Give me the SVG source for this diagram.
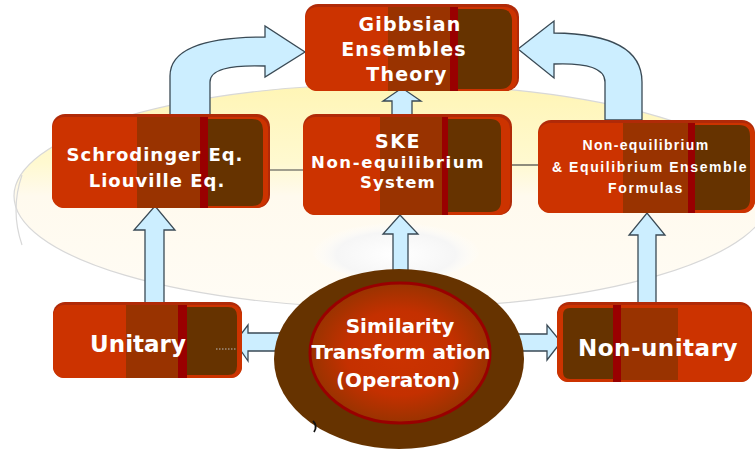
<svg xmlns="http://www.w3.org/2000/svg" width="755" height="452" viewBox="0 0 755 452">
<defs>
<linearGradient id="bg" x1="0" y1="0" x2="0" y2="1">
<stop offset="0" stop-color="#fff5b5"/>
<stop offset="0.35" stop-color="#fff9d0"/>
<stop offset="0.5" stop-color="#fffaee"/>
<stop offset="1" stop-color="#fffcf5"/>
</linearGradient>
<radialGradient id="glow" cx="0.5" cy="0.5" r="0.5">
<stop offset="0" stop-color="#cc3300"/>
<stop offset="0.6" stop-color="#c43000"/>
<stop offset="1" stop-color="#993300"/>
</radialGradient>
<radialGradient id="wglow" cx="0.5" cy="0.6" r="0.5">
<stop offset="0" stop-color="#ffffff"/>
<stop offset="0.7" stop-color="#f6f6f6"/>
<stop offset="1" stop-color="#ffffff" stop-opacity="0"/>
</radialGradient>
</defs>
<style>
.arrow{fill:#cceeff;stroke:#3a4a55;stroke-width:1.3;stroke-linejoin:miter}
.line{stroke:#444;stroke-width:1.2;fill:none}
.c1{fill:#cc3300}
.c2{fill:#993300}
.c3{fill:#990000}
.c4{fill:#663300}
.edge{fill:#b02a08}
.t{fill:#ffffff;font-family:"DejaVu Sans",Verdana,sans-serif;font-weight:bold;text-anchor:middle}
.tn{fill:#ffffff;font-family:"DejaVu Sans",Verdana,sans-serif;text-anchor:middle}
.ts{fill:#ffffff;font-family:"Liberation Sans",Arial,sans-serif;font-weight:bold;text-anchor:middle}
</style>
<rect width="755" height="452" fill="#ffffff"/>
<g id="background">
<ellipse cx="392" cy="196" rx="378" ry="112" fill="url(#bg)" stroke="#d8d8d8" stroke-width="1.2"/>
<path d="M22,175 Q10,210 22,245" fill="none" stroke="#d8d8d8" stroke-width="1.2"/>
<ellipse cx="396" cy="248" rx="85" ry="32" fill="url(#wglow)"/>
</g>
<g id="connectors">
<line class="line" x1="268" y1="170" x2="305" y2="170"/>
<line class="line" x1="508" y1="165" x2="540" y2="165"/>
<path class="arrow" d="M170,117 L170,76 Q170,37 265,37 L265,26 L305,52 L265,77 L265,66 Q210,64 210,82 L210,117 Z"/>
<path class="arrow" d="M642,120 L642,82 Q642,34 554,33 L554,21 L518,49 L554,78 L554,64 Q605,62 605,82 L605,120 Z"/>
<path class="arrow" d="M392,117 L392,101 L383,101 L402,88 L421,101 L412,101 L412,117 Z"/>
<path class="arrow" d="M393,272 L393,234 L383,234 L400,215 L418,234 L408,234 L408,272 Z"/>
<path class="arrow" d="M145,304 L145,230 L134,230 L155,206 L175,230 L164,230 L164,304 Z"/>
<path class="arrow" d="M638,304 L638,235 L629,235 L647,213 L665,235 L656,235 L656,304 Z"/>
<path class="arrow" d="M290,333 L248,333 L248,325 L235,342 L248,361 L248,351 L290,351 Z"/>
<path class="arrow" d="M512,334 L547,334 L547,325 L561,342 L547,360 L547,351 L512,351 Z"/>
</g>
<g id="gibbsian">
<rect class="edge" x="305" y="4" width="214" height="87" rx="13"/>
<rect class="c1" x="305" y="7" width="212" height="84" rx="12"/>
<rect class="c2" x="388" y="7" width="62" height="84"/>
<rect class="c3" x="450" y="7" width="8" height="84"/>
<path class="c4" d="M458,9 L500,9 Q512,9 512,21 L512,77 Q512,89 500,89 L458,89 Z"/>
<text class="t" x="410" y="31" font-size="19" letter-spacing="1.2">Gibbsian</text>
<text class="t" x="404" y="56" font-size="19" letter-spacing="1.2">Ensembles</text>
<text class="t" x="407" y="81" font-size="19" letter-spacing="1.2">Theory</text>
</g>
<g id="schrodinger">
<rect class="edge" x="52" y="114" width="218" height="94" rx="13"/>
<rect class="c1" x="52" y="117" width="216" height="91" rx="12"/>
<rect class="c2" x="137" y="117" width="63" height="91"/>
<rect class="c3" x="200" y="117" width="8" height="91"/>
<path class="c4" d="M208,119 L252,119 Q263,119 263,130 L263,195 Q263,206 252,206 L208,206 Z"/>
<text class="t" x="155" y="161" font-size="18" letter-spacing="1">Schrodinger Eq.</text>
<text class="t" x="157" y="187" font-size="18" letter-spacing="1">Liouville Eq.</text>
</g>
<g id="ske">
<rect class="edge" x="303" y="114" width="209" height="101" rx="13"/>
<rect class="c1" x="303" y="117" width="207" height="98" rx="12"/>
<rect class="c2" x="380" y="117" width="62" height="98"/>
<rect class="c3" x="442" y="117" width="6" height="98"/>
<path class="c4" d="M448,119 L490,119 Q501,119 501,130 L501,201 Q501,212 490,212 L448,212 Z"/>
<text class="t" x="398" y="148" font-size="19" letter-spacing="1.5">SKE</text>
<text class="t" x="398" y="168" font-size="16.5" letter-spacing="1.6">Non-equilibrium</text>
<text class="t" x="398" y="188" font-size="16.5" letter-spacing="1.2">System</text>
</g>
<g id="formulas">
<rect class="edge" x="538" y="120" width="217" height="93" rx="13"/>
<rect class="c1" x="538" y="123" width="217" height="90" rx="12"/>
<rect class="c2" x="623" y="123" width="65" height="90"/>
<rect class="c3" x="688" y="123" width="7" height="90"/>
<path class="c4" d="M695,125 L739,125 Q750,125 750,136 L750,199 Q750,210 739,210 L695,210 Z"/>
<text class="ts" x="646" y="150" font-size="14" letter-spacing="1.3">Non-equilibrium</text>
<text class="ts" x="650" y="172" font-size="14" letter-spacing="1.6">&amp; Equilibrium Ensemble</text>
<text class="ts" x="646" y="193" font-size="14" letter-spacing="1.6">Formulas</text>
</g>
<g id="unitary">
<rect class="edge" x="53" y="302" width="189" height="76" rx="12"/>
<rect class="c1" x="53" y="305" width="189" height="73" rx="11"/>
<rect class="c2" x="126" y="305" width="52" height="73"/>
<rect class="c3" x="178" y="305" width="9" height="73"/>
<path class="c4" d="M187,307 L228,307 Q237,307 237,316 L237,366 Q237,375 228,375 L187,375 Z"/>
<line x1="216" y1="349" x2="236" y2="349" stroke="#bbbbbb" stroke-width="1.2" stroke-dasharray="1.5,1.5"/>
<text class="tn" x="138" y="352" font-size="23" font-weight="600">Unitary</text>
</g>
<g id="nonunitary">
<rect class="edge" x="557" y="302" width="195" height="80" rx="12"/>
<rect class="c1" x="557" y="305" width="195" height="77" rx="11"/>
<path class="c4" d="M563,315 Q563,308 570,308 L613,308 L613,379 L570,379 Q563,379 563,372 Z"/>
<rect class="c3" x="613" y="305" width="8" height="77"/>
<rect class="c2" x="621" y="308" width="57" height="72"/>
<text class="tn" x="658" y="356" font-size="23" font-weight="600" letter-spacing="0.5">Non-unitary</text>
</g>
<g id="similarity">
<ellipse cx="399" cy="359" rx="125" ry="90" fill="#663300"/>
<ellipse cx="400" cy="353" rx="90" ry="70" fill="url(#glow)" stroke="#990000" stroke-width="3"/>
<text class="tn" x="400" y="333" font-size="20" font-weight="600">Similarity</text>
<text class="tn" x="401" y="359" font-size="20" font-weight="600">Transform ation</text>
<text class="tn" x="398" y="387" font-size="20" font-weight="600">(Operaton)</text>
</g>
<path d="M313,421 Q318,426 314,432" fill="none" stroke="#111" stroke-width="1.8"/>
</svg>
